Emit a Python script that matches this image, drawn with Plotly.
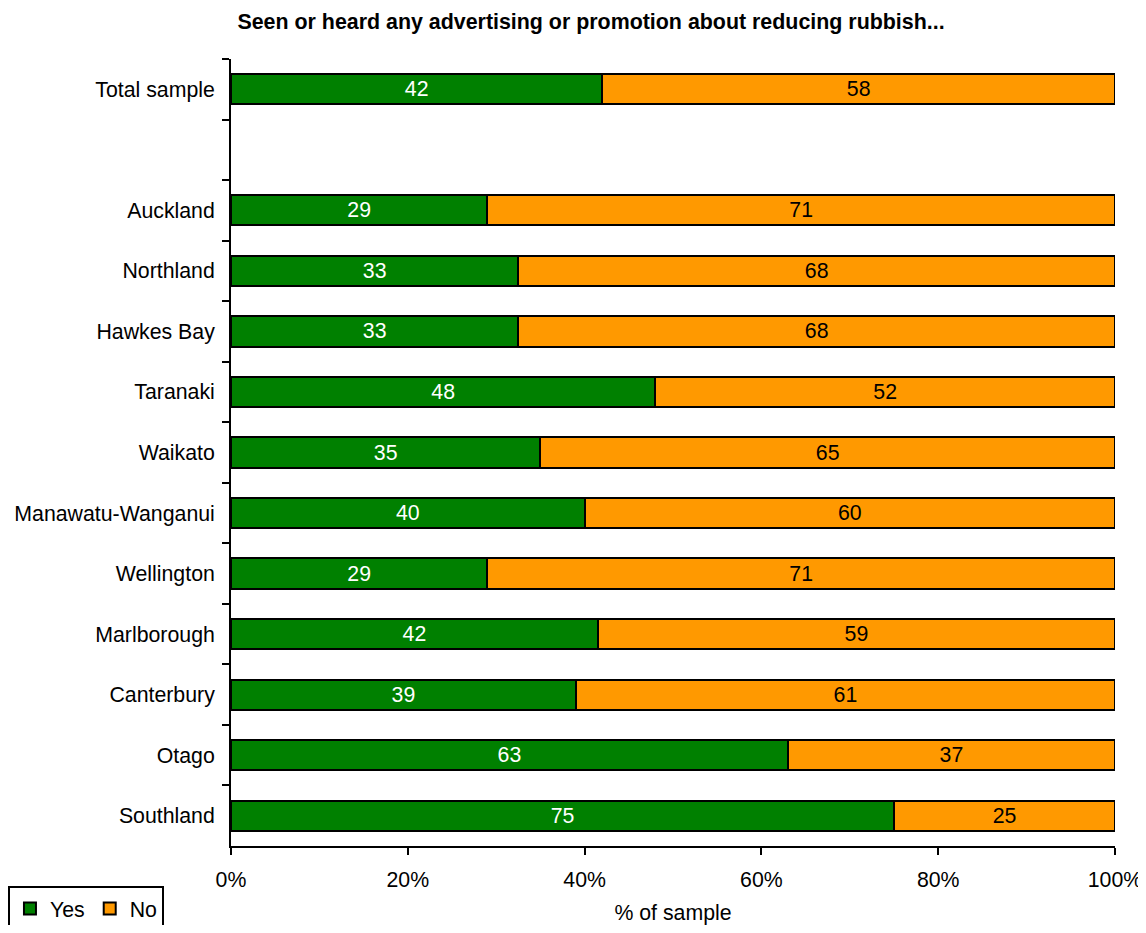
import plotly.graph_objects as go

categories = ["Total sample", " ", "Auckland", "Northland", "Hawkes Bay", "Taranaki", "Waikato",
              "Manawatu-Wanganui", "Wellington", "Marlborough", "Canterbury", "Otago", "Southland"]
bar_categories = ["Total sample", "Auckland", "Northland", "Hawkes Bay", "Taranaki", "Waikato",
                  "Manawatu-Wanganui", "Wellington", "Marlborough", "Canterbury", "Otago", "Southland"]
yes_values = [42, 29, 32.5, 32.5, 48, 35, 40, 29, 41.5, 39, 63, 75]
no_values = [58, 71, 67.5, 67.5, 52, 65, 60, 71, 58.5, 61, 37, 25]
x_ticks = [0, 20, 40, 60, 80, 100]
x_tick_labels = ["0%", "20%", "40%", "60%", "80%", "100%"]

FONT = "Liberation Sans, Arial, sans-serif"
FS = 21.3
W, H = 1138, 917

fig = go.Figure()
fig.add_trace(go.Bar(
    name="Yes", y=bar_categories, x=yes_values, orientation="h",
    marker=dict(color="#008000", line=dict(color="black", width=2)),
    texttemplate="%{x:.0f}", textposition="inside", insidetextanchor="middle",
    textfont=dict(color="white", size=FS, family=FONT), hoverinfo="x+y",
))
fig.add_trace(go.Bar(
    name="No", y=bar_categories, x=no_values, orientation="h",
    marker=dict(color="#FF9900", line=dict(color="black", width=2)),
    texttemplate="%{x:.0f}", textposition="inside", insidetextanchor="middle",
    textfont=dict(color="black", size=FS, family=FONT), hoverinfo="x+y",
))

fig.update_layout(
    barmode="stack",
    bargap=0.5,
    width=W, height=H,
    margin=dict(l=223, r=31, t=51, b=79, autoexpand=False),
    paper_bgcolor="white", plot_bgcolor="white",
    font=dict(family=FONT, size=FS, color="black"),
    title=dict(text="<b>Seen or heard any advertising or promotion about reducing rubbish...</b>",
               x=583 / W, xanchor="center", xref="container", y=1 - 14 / H, yanchor="middle",
               font=dict(size=21.4, family=FONT, color="black")),
    uniformtext=dict(mode="show", minsize=10),
    legend=dict(orientation="h", x=-0.2523, xanchor="left", y=-0.051, yanchor="top",
                bordercolor="black", borderwidth=2, bgcolor="white",
                font=dict(size=FS, family=FONT), traceorder="normal"),
    xaxis=dict(range=[0, 100], tickvals=x_ticks, ticktext=x_tick_labels,
               showgrid=False, zeroline=False, showline=True, linecolor="black", linewidth=2,
               ticks="outside", ticklen=7, tickwidth=2, tickcolor="black",
               tickfont=dict(size=FS), ticklabelstandoff=6, fixedrange=True,
               title=dict(text="% of sample", font=dict(size=FS), standoff=17)),
    yaxis=dict(type="category", categoryorder="array", categoryarray=categories,
               autorange="reversed", showgrid=False, zeroline=False,
               showline=True, linecolor="black", linewidth=2,
               ticks="outside", tickson="boundaries", ticklen=7, tickwidth=2, tickcolor="black",
               tickfont=dict(size=FS), ticksuffix=" ", ticklabelstandoff=4, fixedrange=True),
)

fig.write_html("out.html")
